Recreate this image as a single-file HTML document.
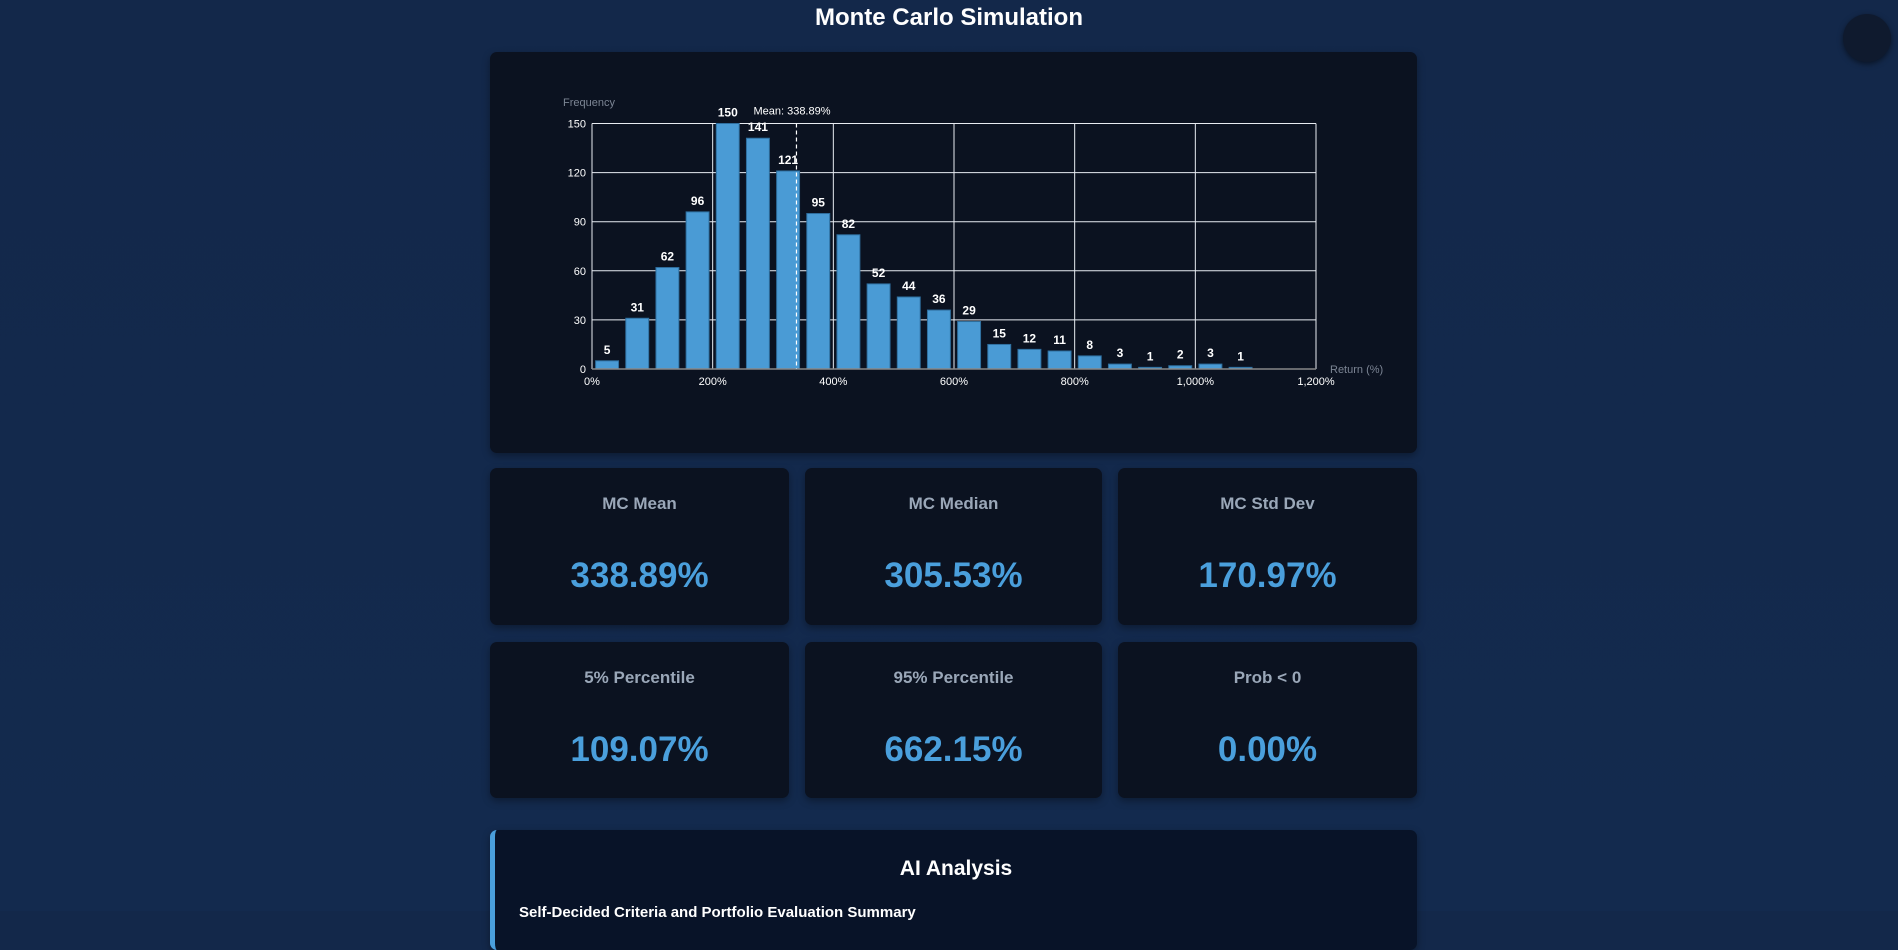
<!DOCTYPE html>
<html><head><meta charset="utf-8"><style>
body{margin:0;width:1898px;height:911px;overflow:hidden;background:linear-gradient(180deg,#13284a,#132a4e);font-family:"Liberation Sans",sans-serif;position:relative}
.title{position:absolute;top:3px;left:0;width:1898px;text-align:center;color:#fff;font-weight:bold;font-size:24px;line-height:30px}
.circle{position:absolute;left:1843px;top:14px;width:48px;height:48px;border-radius:50%;background:#0f1a2e;box-shadow:0 2px 6px rgba(0,0,0,.5)}
.card{position:absolute;background:#0b1220;border-radius:7px;box-shadow:0 3px 8px rgba(0,0,0,.35)}
.lbl{position:absolute;left:0;right:0;top:26px;text-align:center;color:#9aa7b8;font-weight:bold;font-size:17px}
.val{position:absolute;left:0;right:0;top:88px;text-align:center;color:#4a9fdc;font-weight:bold;font-size:35px}
</style></head><body>
<div class="title">Monte Carlo Simulation</div>
<div class="circle"></div>
<div class="card" style="left:490px;top:52px;width:927px;height:401px">
<svg id="chart" width="927" height="401"></svg>
</div>
<div class="card" style="left:490px;top:468px;width:299px;height:157px"><div class="lbl">MC Mean</div><div class="val">338.89%</div></div>
<div class="card" style="left:805px;top:468px;width:297px;height:157px"><div class="lbl">MC Median</div><div class="val">305.53%</div></div>
<div class="card" style="left:1118px;top:468px;width:299px;height:157px"><div class="lbl">MC Std Dev</div><div class="val">170.97%</div></div>
<div class="card" style="left:490px;top:642px;width:299px;height:156px"><div class="lbl">5% Percentile</div><div class="val">109.07%</div></div>
<div class="card" style="left:805px;top:642px;width:297px;height:156px"><div class="lbl">95% Percentile</div><div class="val">662.15%</div></div>
<div class="card" style="left:1118px;top:642px;width:299px;height:156px"><div class="lbl">Prob &lt; 0</div><div class="val">0.00%</div></div>
<div class="card" style="left:490px;top:830px;width:927px;height:120px;background:#081328;border-left:5px solid #4a9fdc;box-sizing:border-box">
<div style="position:absolute;left:0;right:0;top:27px;text-align:center;color:#fff;font-weight:bold;font-size:21px">AI Analysis</div>
<div style="position:absolute;left:24px;top:74px;color:#fff;font-weight:bold;font-size:15px">Self-Decided Criteria and Portfolio Evaluation Summary</div>
</div>
<script>
const binStarts=[0,50,100,150,200,250,300,350,400,450,500,550,600,650,700,750,800,850,900,950,1000,1050];
const counts=[5,31,62,96,150,141,121,95,82,52,44,36,29,15,12,11,8,3,1,2,3,1];
const xTicks=[0,200,400,600,800,1000,1200];
const xTickLabels=["0%","200%","400%","600%","800%","1,000%","1,200%"];
const yTicks=[0,30,60,90,120,150];
const meanValue=338.89;
const binWidth=50;
const svg=document.getElementById('chart');
const NS='http://www.w3.org/2000/svg';
const L=102,R=826,T=71.5,B=317;
const xs=v=>L+(v-0)/1200*(R-L);
const ys=v=>B-v/150*(B-T);
function mk(t,a){const e=document.createElementNS(NS,t);for(const k in a)e.setAttribute(k,a[k]);svg.appendChild(e);return e;}
yTicks.forEach(v=>{const l=mk('line',{x1:L,x2:R,y1:ys(v),y2:ys(v),stroke:'#e8ecf2','stroke-width':1});


const t=mk('text',{x:L-6,y:ys(v)+4,fill:'#fff','font-size':11,'text-anchor':'end','font-family':'Liberation Sans'});t.textContent=v;

});
xTicks.forEach((v,i)=>{const l=mk('line',{x1:xs(v),x2:xs(v),y1:T,y2:B,stroke:'#e8ecf2','stroke-width':1});


const t=mk('text',{x:xs(v),y:B+16,fill:'#fff','font-size':11,'text-anchor':'middle','font-family':'Liberation Sans'});t.textContent=xTickLabels[i];

});
counts.forEach((c,i)=>{const x0=xs(binStarts[i]),x1=xs(binStarts[i]+binWidth),w=(x1-x0)*0.76,cx=(x0+x1)/2;
const r=mk('rect',{x:cx-w/2,y:ys(c),width:w,height:B-ys(c),fill:'#4a9bd5',stroke:'#2f6f9f','stroke-width':1});


const t=mk('text',{x:cx,y:ys(c)-7,fill:'#fff','font-size':12,'font-weight':'bold','text-anchor':'middle','font-family':'Liberation Sans'});t.textContent=c;

});
const ax=mk('line',{x1:L,x2:R,y1:B,y2:B,stroke:'#888','stroke-width':1.5});


const ml=mk('line',{x1:xs(meanValue),x2:xs(meanValue),y1:T,y2:B,stroke:'#fff','stroke-width':1.2,'stroke-dasharray':'4,3'});


const mt=mk('text',{x:xs(meanValue)-43,y:T-9,fill:'#fff','font-size':11,'font-family':'Liberation Sans'});mt.textContent='Mean: '+meanValue.toFixed(2)+'%';


const yt=mk('text',{x:73,y:54,fill:'#7c8594','font-size':11,'font-family':'Liberation Sans'});yt.textContent='Frequency';


const xt=mk('text',{x:840,y:321,fill:'#7c8594','font-size':11,'font-family':'Liberation Sans'});xt.textContent='Return (%)';


</script>
</body></html>
